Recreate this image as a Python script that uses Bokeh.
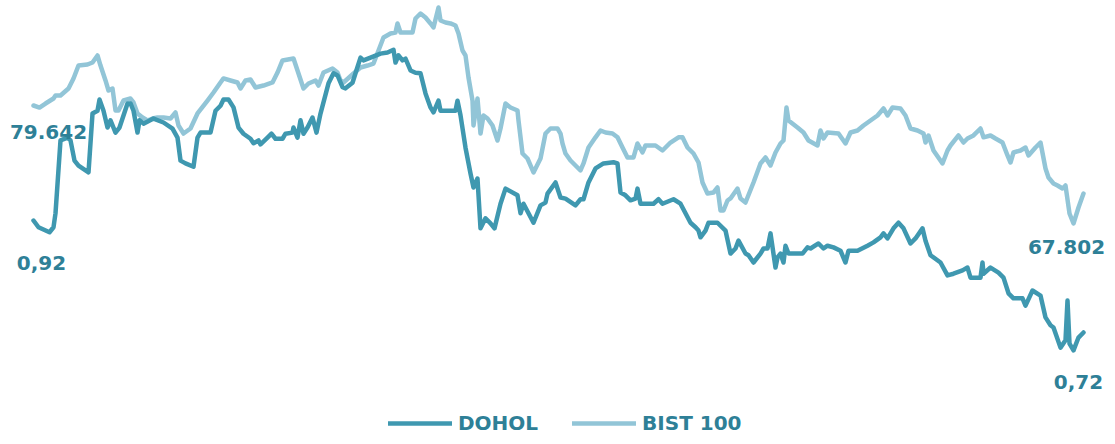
from bokeh.plotting import figure
from bokeh.models import Range1d, Legend, LegendItem, Label
from bokeh.embed import file_html
from bokeh.resources import INLINE

# ---- data (trading-time index, value) ----
dohol_t = [0, 5, 16, 20, 22, 27, 34, 37, 41, 45, 55, 59, 64, 66, 70, 74, 77, 82, 86, 94, 97, 100, 104, 106,
           110, 120, 130, 139, 144, 147, 152, 160, 164, 167, 177, 182, 187, 190, 195, 200, 205, 210, 217, 220,
           225, 227, 234, 238, 242, 249, 252, 259, 260, 264, 267, 270, 274, 279, 283, 287, 295, 300, 304, 309,
           312, 319, 322, 327, 330, 337, 347, 354, 360, 362, 365, 369, 372, 377, 382, 387, 392, 397, 400, 405,
           407, 417, 422, 424, 427, 432, 437, 440, 444, 447, 452, 457, 461, 467, 472, 484, 487, 490, 495, 500,
           507, 512, 514, 522, 527, 532, 542, 547, 550, 555, 562, 570, 580, 584, 587, 592, 597, 602, 604, 607,
           620, 625, 629, 640, 647, 652, 657, 662, 665, 667, 672, 675, 684, 692, 697, 702, 705, 712, 715, 720,
           727, 730, 734, 737, 742, 744, 747, 750, 752, 755, 769, 774, 777, 785, 790, 794, 800, 807, 812, 815,
           824, 834, 840, 847, 850, 854, 860, 865, 870, 877, 882, 889, 892, 897, 907, 914, 920, 929, 934, 937,
           947, 949, 950, 957, 965, 970, 975, 980, 989, 992, 999, 1007, 1012, 1017, 1020, 1027, 1032, 1034, 1036,
           1040, 1045, 1050]
dohol = [0.920, 0.908, 0.899, 0.908, 0.933, 1.063, 1.068, 1.063, 1.027, 1.018, 1.006, 1.111, 1.116, 1.136,
         1.116, 1.086, 1.099, 1.077, 1.086, 1.129, 1.129, 1.116, 1.077, 1.099, 1.093, 1.102, 1.095, 1.084,
         1.068, 1.027, 1.022, 1.016, 1.068, 1.077, 1.077, 1.116, 1.125, 1.136, 1.136, 1.122, 1.086, 1.075,
         1.066, 1.058, 1.063, 1.056, 1.068, 1.075, 1.066, 1.066, 1.075, 1.077, 1.086, 1.068, 1.099, 1.075,
         1.086, 1.104, 1.077, 1.111, 1.165, 1.183, 1.179, 1.158, 1.156, 1.166, 1.183, 1.211, 1.206, 1.211,
         1.218, 1.220, 1.225, 1.202, 1.215, 1.206, 1.209, 1.188, 1.184, 1.183, 1.147, 1.122, 1.113, 1.134,
         1.116, 1.116, 1.116, 1.134, 1.108, 1.050, 1.004, 0.979, 0.995, 0.906, 0.924, 0.915, 0.906, 0.950,
         0.977, 0.965, 0.933, 0.950, 0.933, 0.916, 0.947, 0.952, 0.968, 0.988, 0.961, 0.959, 0.947, 0.958,
         0.958, 0.988, 1.013, 1.022, 1.024, 1.022, 0.970, 0.965, 0.956, 0.959, 0.977, 0.950, 0.950, 0.958,
         0.950, 0.958, 0.950, 0.933, 0.916, 0.908, 0.902, 0.890, 0.902, 0.916, 0.916, 0.902, 0.861, 0.870,
         0.884, 0.861, 0.858, 0.845, 0.861, 0.870, 0.870, 0.897, 0.836, 0.854, 0.861, 0.845, 0.875, 0.861,
         0.861, 0.872, 0.870, 0.879, 0.870, 0.875, 0.872, 0.866, 0.845, 0.866, 0.866, 0.875, 0.881, 0.890,
         0.897, 0.888, 0.906, 0.916, 0.906, 0.879, 0.888, 0.906, 0.884, 0.858, 0.845, 0.822, 0.825, 0.831,
         0.836, 0.818, 0.818, 0.845, 0.825, 0.836, 0.827, 0.818, 0.790, 0.781, 0.781, 0.768, 0.795, 0.786,
         0.747, 0.733, 0.729, 0.693, 0.706, 0.777, 0.700, 0.688, 0.711, 0.720]

bist_t = [0, 6, 12, 20, 22, 27, 35, 40, 45, 54, 59, 64, 67, 72, 75, 79, 82, 85, 90, 97, 100, 104, 109, 114,
          119, 124, 130, 137, 142, 145, 150, 157, 164, 174, 180, 187, 190, 197, 204, 207, 212, 217, 222, 230,
          239, 244, 249, 260, 264, 270, 275, 282, 285, 290, 299, 304, 307, 310, 320, 327, 334, 340, 345, 350,
          357, 362, 364, 367, 372, 379, 382, 387, 392, 397, 400, 405, 407, 412, 417, 422, 425, 429, 432, 435,
          439, 440, 444, 447, 450, 454, 459, 464, 467, 472, 477, 484, 485, 489, 494, 500, 507, 512, 517, 524,
          527, 529, 532, 537, 542, 547, 550, 555, 562, 567, 572, 579, 584, 589, 594, 600, 604, 609, 612, 622,
          629, 637, 645, 649, 654, 660, 665, 669, 674, 680, 684, 687, 690, 694, 697, 704, 707, 712, 720, 727,
          732, 737, 742, 747, 750, 753, 755, 764, 770, 775, 784, 787, 790, 794, 805, 812, 817, 824, 830, 844,
          850, 854, 859, 867, 872, 877, 884, 890, 892, 895, 900, 909, 914, 917, 925, 930, 934, 940, 947, 950,
          957, 962, 969, 974, 977, 980, 987, 992, 995, 1002, 1007, 1012, 1015, 1020, 1024, 1029, 1032, 1036,
          1040, 1045, 1050]
bist = [79.642, 79.37, 79.91, 80.58, 80.99, 80.99, 81.93, 83.28, 85.02, 85.16, 85.43, 86.37, 85.02, 83.01,
        81.66, 81.93, 78.97, 78.97, 80.31, 80.58, 80.05, 78.57, 78.03, 77.62, 77.89, 78.03, 78.03, 77.89,
        78.70, 76.95, 75.87, 76.55, 78.57, 80.31, 81.39, 82.74, 83.28, 83.01, 82.74, 81.93, 83.01, 83.14,
        82.06, 82.33, 82.74, 84.08, 85.70, 85.97, 84.35, 81.93, 82.60, 83.01, 82.33, 84.08, 84.62, 84.08,
        83.01, 82.74, 83.95, 84.75, 85.02, 85.29, 87.04, 88.79, 89.33, 89.46, 90.68, 89.46, 89.46, 89.46,
        91.35, 92.02, 91.48, 90.68, 90.14, 92.83, 91.08, 90.81, 90.68, 90.41, 89.33, 87.04, 86.37, 83.41,
        80.31, 76.95, 80.58, 75.87, 78.30, 77.89, 76.95, 74.93, 76.55, 79.91, 79.37, 78.97, 77.62, 73.18,
        72.51, 70.63, 72.51, 75.87, 76.55, 76.55, 75.87, 74.53, 73.18, 72.24, 71.57, 70.90, 71.84, 73.99,
        75.36, 76.28, 76.01, 75.87, 75.36, 73.99, 72.65, 72.65, 74.53, 73.32, 74.26, 74.26, 73.59, 74.66,
        75.36, 75.36, 73.99, 73.18, 71.97, 69.28, 67.80, 67.94, 68.61, 65.51, 65.51, 66.86, 67.13, 68.47,
        67.13, 66.59, 69.28, 71.84, 72.65, 71.57, 73.32, 74.53, 74.93, 79.37, 77.62, 76.68, 76.01, 74.93,
        74.26, 76.28, 75.20, 76.01, 75.87, 74.53, 76.01, 76.28, 76.95, 78.30, 79.24, 78.30, 79.37, 79.24,
        78.30, 76.55, 76.28, 75.87, 74.66, 75.61, 73.59, 71.84, 73.59, 74.26, 75.61, 74.66, 75.20, 75.61,
        76.55, 75.36, 75.61, 75.20, 74.66, 72.92, 71.97, 73.32, 73.59, 73.99, 72.92, 73.99, 74.66, 71.17,
        69.95, 69.15, 68.88, 68.47, 68.88, 65.11, 63.77, 65.92, 67.802]

series_names = ["DOHOL", "BIST 100"]
start_labels = ["0,92", "79.642"]
end_labels = ["0,72", "67.802"]

DOHOL_COLOR = "#3f98b0"
BIST_COLOR = "#92c5d7"
TEXT_COLOR = "#2e8097"
FONT = "DejaVu Sans"

p = figure(width=1115, height=444, output_backend="svg", toolbar_location=None,
           x_range=Range1d(-33, 1082), y_range=Range1d(0.52, 1.3129),
           min_border=0, min_border_left=0, min_border_right=0,
           min_border_top=0, min_border_bottom=0)
p.extra_y_ranges = {"bist": Range1d(34.031, 93.769)}
p.xaxis.visible = False
p.yaxis.visible = False
p.grid.visible = False
p.outline_line_color = None
p.background_fill_color = "white"
p.border_fill_color = "white"

r_bist = p.line(bist_t, bist, y_range_name="bist", line_color=BIST_COLOR, line_width=4.5,
                line_join="round", line_cap="round")
r_dohol = p.line(dohol_t, dohol, line_color=DOHOL_COLOR, line_width=4.5,
                 line_join="round", line_cap="round")

# value labels at the ends of the series
lab_specs = [
    (bist_t[0], bist[0], "bist", start_labels[1], 15, -27),
    (dohol_t[0], dohol[0], "default", start_labels[0], 8, -42),
    (bist_t[-1], bist[-1], "bist", end_labels[1], -17, -54),
    (dohol_t[-1], dohol[-1], "default", end_labels[0], -5, -49),
]
for x, y, rn, txt, xo, yo in lab_specs:
    p.add_layout(Label(x=x, y=y, y_range_name=rn, text=txt, x_offset=xo, y_offset=yo,
                       text_align="center", text_baseline="alphabetic",
                       text_font=FONT, text_font_style="bold", text_font_size="20px",
                       text_color=TEXT_COLOR))

legend = Legend(items=[LegendItem(label=series_names[0], renderers=[r_dohol]),
                       LegendItem(label=series_names[1], renderers=[r_bist])],
                orientation="horizontal", location=(388, 9),
                glyph_width=64, glyph_height=20, label_height=20, label_standoff=6,
                spacing=34, padding=0, margin=0,
                border_line_color=None, background_fill_alpha=0,
                label_text_font=FONT, label_text_font_style="bold",
                label_text_font_size="20px", label_text_color=TEXT_COLOR)
p.add_layout(legend)

open("out.html", "w").write(file_html(p, INLINE))
